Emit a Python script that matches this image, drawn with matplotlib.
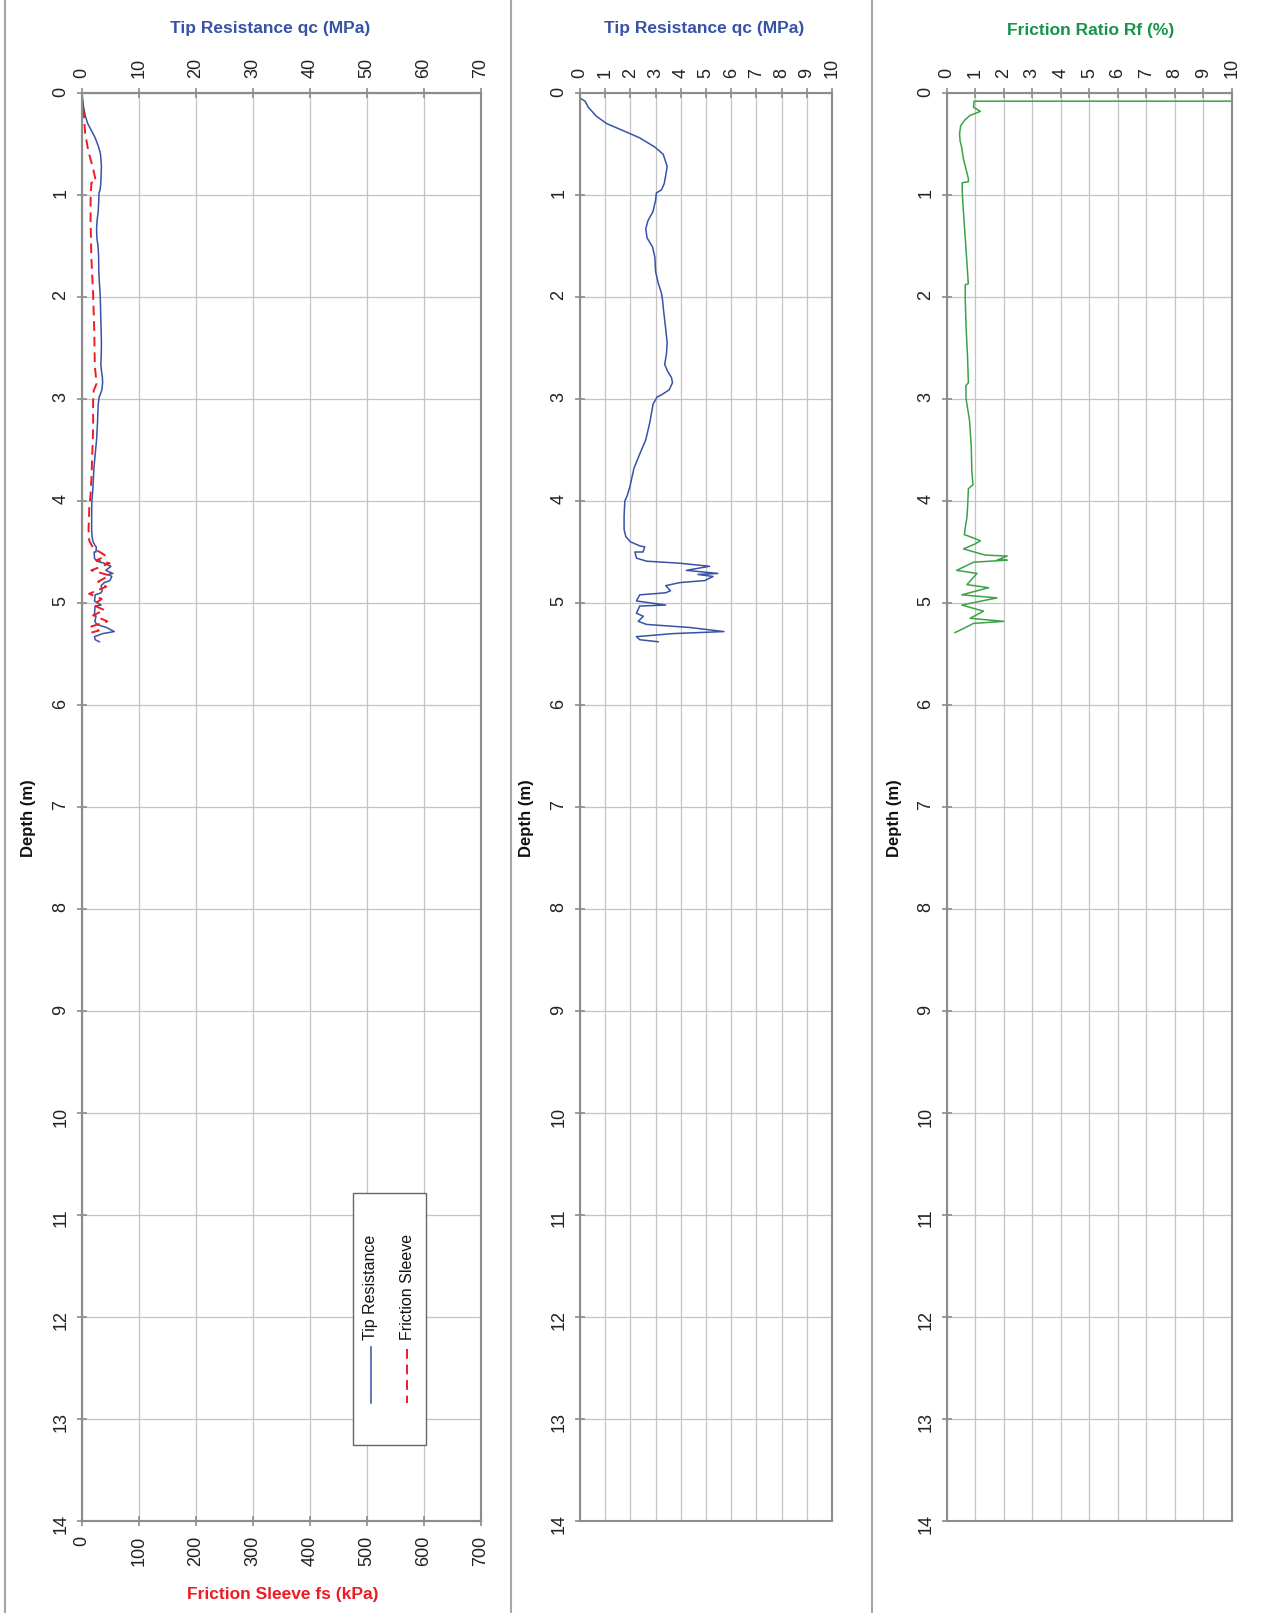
import matplotlib as mpl
mpl.use('Agg')
import matplotlib.pyplot as plt
from matplotlib.lines import Line2D
from matplotlib.patches import Rectangle

plt.rcParams['font.family'] = ['Liberation Sans', 'DejaVu Sans']

qc_depth = [0, 0.05, 0.08, 0.14, 0.23, 0.30, 0.37, 0.44, 0.53, 0.60, 0.72, 0.81, 0.89, 0.95,
            0.98, 1.05, 1.16, 1.25, 1.33, 1.42, 1.51, 1.61, 1.75, 1.86, 1.96, 2.02, 2.14, 2.31,
            2.45, 2.56, 2.66, 2.72, 2.79, 2.84, 2.91, 2.96, 2.98, 3.05, 3.23, 3.40, 3.54, 3.68,
            3.86, 3.95, 4.00, 4.14, 4.28, 4.35, 4.40, 4.44, 4.45, 4.50, 4.50, 4.56, 4.59, 4.61,
            4.64, 4.68, 4.71, 4.72, 4.74, 4.78, 4.80, 4.83, 4.88, 4.90, 4.92, 4.98, 5.02, 5.03,
            5.10, 5.13, 5.18, 5.21, 5.24, 5.28, 5.30, 5.33, 5.36, 5.38]
qc = [0, 0.0, 0.2, 0.33, 0.66, 1.06, 1.72, 2.37, 2.97, 3.30, 3.46, 3.40, 3.34, 3.23,
      3.03, 3.00, 2.90, 2.70, 2.61, 2.66, 2.88, 2.97, 3.00, 3.10, 3.23, 3.27, 3.32, 3.40,
      3.46, 3.43, 3.36, 3.46, 3.63, 3.67, 3.54, 3.23, 3.06, 2.90, 2.77, 2.61, 2.37, 2.14,
      1.98, 1.87, 1.78, 1.75, 1.75, 1.82, 2.00, 2.37, 2.57, 2.50, 2.18, 2.24, 2.64, 3.96,
      5.14, 4.22, 5.47, 4.68, 5.28, 4.95, 3.96, 3.40, 3.59, 3.40, 2.37, 2.24, 3.40, 2.37,
      2.24, 2.51, 2.31, 2.64, 4.35, 5.71, 3.69, 2.24, 2.37, 3.10]

fs_depth = [0, 0.15, 0.39, 0.57, 0.74, 0.87, 0.88, 1.02, 1.27, 1.62, 1.97, 2.32, 2.67, 2.85,
            2.92, 3.02, 3.30, 3.55, 3.79, 3.93, 4.07, 4.28, 4.39, 4.46, 4.54, 4.58, 4.61, 4.68,
            4.73, 4.79, 4.84, 4.91, 4.96, 5.02, 5.07, 5.12, 5.18, 5.23, 5.27, 5.29]
fs = [0, 3, 6, 11.6, 20, 25, 17, 15.6, 15.6, 17, 20, 22, 23, 26,
      21, 20, 20, 18.5, 17, 15.6, 13.3, 12, 13.3, 20, 43, 26, 49, 17,
      49, 29, 43, 13, 35, 20, 40, 20, 45, 17, 30, 17]

rf_depth = [0.08, 0.08, 0.14, 0.18, 0.20, 0.22, 0.26, 0.32, 0.40, 0.47, 0.54, 0.65, 0.75, 0.84,
            0.87, 0.88, 1.00, 1.18, 1.42, 1.67, 1.84, 1.87, 1.88, 2.02, 2.30, 2.58, 2.84, 2.87,
            3.00, 3.21, 3.46, 3.70, 3.84, 3.88, 4.02, 4.16, 4.26, 4.33, 4.35, 4.39, 4.42, 4.47,
            4.53, 4.54, 4.58, 4.58, 4.60, 4.68, 4.71, 4.82, 4.85, 4.92, 4.95, 5.02, 5.08, 5.15,
            5.18, 5.20, 5.25, 5.29]
rf = [40, 0.96, 0.94, 1.18, 1.00, 0.82, 0.65, 0.49, 0.45, 0.47, 0.53, 0.59, 0.68, 0.76,
      0.76, 0.54, 0.55, 0.59, 0.65, 0.71, 0.75, 0.76, 0.65, 0.65, 0.68, 0.73, 0.76, 0.67,
      0.68, 0.80, 0.86, 0.88, 0.92, 0.76, 0.74, 0.71, 0.65, 0.62, 0.82, 1.18, 1.00, 0.59,
      1.35, 2.12, 1.76, 2.12, 0.94, 0.35, 1.06, 0.71, 1.47, 0.53, 1.76, 0.53, 1.29, 0.82,
      2.00, 0.94, 0.59, 0.29]

depth_ticks = list(range(0, 15))

# ================= STYLE ================= #
W, H = 1261, 1613
blue = '#3752a6'
red = '#ed1c24'
green_line = '#3aa346'
green_title = '#17934a'
spine_col = '#8c8c8c'
grid_col = '#c4c4c4'
lab_size = 13

fig = plt.figure(figsize=(W / 100, H / 100), dpi=100)


def px_box(x0, x1):
    # axes box from pixel columns, same top / bottom for all panels
    return [x0 / W, 1 - 1521 / H, (x1 - x0) / W, (1521 - 93) / H]


def style_spines(ax):
    for s in ax.spines.values():
        s.set_color(spine_col)
        s.set_linewidth(1.5)


def setup(ax, xmax, step):
    ax.set_xlim(0, xmax)
    ax.set_ylim(14, 0)
    ax.set_xticks(list(range(0, xmax + 1, step)))
    ax.set_yticks(depth_ticks)
    ax.xaxis.tick_top()
    ax.grid(True, color=grid_col, lw=0.9)
    ax.set_axisbelow(True)
    style_spines(ax)
    ax.tick_params(axis='x', direction='inout', length=7, width=1.2, color=spine_col,
                   labelsize=lab_size, labelrotation=90, pad=7, labelcolor='#222222')
    ax.tick_params(axis='y', direction='inout', length=7, width=1.2, color=spine_col,
                   labelsize=lab_size, labelrotation=90, pad=5.5, labelcolor='#222222')


# ---------------- panel 1 : qc + fs ---------------- #
ax1 = fig.add_axes(px_box(81.7, 480.7))
ax1b = ax1.twiny()
setup(ax1, 70, 10)
ax1.xaxis.set_label_position('top')
ax1.plot(qc, qc_depth, color=blue, lw=1.1)

ax1b.set_xlim(0, 700)
ax1b.set_xticks(list(range(0, 701, 100)))
ax1b.xaxis.tick_bottom()
ax1b.set_ylim(14, 0)
style_spines(ax1b)
ax1b.tick_params(axis='x', direction='inout', length=7, width=1.2, color=spine_col,
                 labelsize=lab_size, labelrotation=90, pad=7, labelcolor='#222222')
ax1b.plot(fs, fs_depth, color=red, lw=1.4, dashes=(5, 3))

# ---------------- panel 2 : qc zoom ---------------- #
ax2 = fig.add_axes(px_box(580, 832))
setup(ax2, 10, 1)
ax2.plot(qc, qc_depth, color=blue, lw=1.1)

# ---------------- panel 3 : Rf ---------------- #
ax3 = fig.add_axes(px_box(946.7, 1232))
setup(ax3, 10, 1)
ax3.plot(rf, rf_depth, color=green_line, lw=1.1)

# ================= TEXTS ================= #
fig.text(270 / W, 1 - 28 / H, 'Tip Resistance qc (MPa)', color=blue, fontsize=12.5,
         fontweight='bold', ha='center', va='center')
fig.text(704 / W, 1 - 29 / H, 'Tip Resistance qc (MPa)', color=blue, fontsize=12.5,
         fontweight='bold', ha='center', va='center')
fig.text(1090.7 / W, 1 - 30.5 / H, 'Friction Ratio Rf (%)', color=green_title, fontsize=12.5,
         fontweight='bold', ha='center', va='center')
fig.text(283 / W, 1 - 1594 / H, 'Friction Sleeve fs (kPa)', color=red, fontsize=12.5,
         fontweight='bold', ha='center', va='center')
for xp in [29, 527, 895]:
    fig.text(xp / W, 1 - 818 / H, 'Depth (m)', fontsize=12, fontweight='bold',
             rotation=90, ha='center', va='center', color='#111111')

# ================= LEGEND (rotated, drawn by hand) ================= #
fig.add_artist(Rectangle((352.7 / W, 1 - 1445 / H), 73 / W, 252 / H, transform=fig.transFigure,
                         facecolor='white', edgecolor='#666666', lw=1.0))
fig.add_artist(Line2D([370.7 / W] * 2, [1 - 1347 / H, 1 - 1403 / H], transform=fig.transFigure,
                      color=blue, lw=1.1))
fig.add_artist(Line2D([407 / W] * 2, [1 - 1349 / H, 1 - 1403 / H], transform=fig.transFigure,
                      color=red, lw=1.4, dashes=(5, 3)))
fig.text(370.7 / W, 1 - 1340 / H, 'Tip Resistance', rotation=90, fontsize=11.5,
         ha='center', va='bottom', color='#111111')
fig.text(407 / W, 1 - 1340 / H, 'Friction Sleeve', rotation=90, fontsize=11.5,
         ha='center', va='bottom', color='#111111')

# ================= PANEL SEPARATORS ================= #
for xp in [5, 511, 872]:
    fig.add_artist(Line2D([xp / W] * 2, [0, 1], transform=fig.transFigure,
                          color='#a6a6a6', lw=1.5))

fig.savefig('out.png', dpi=100)
